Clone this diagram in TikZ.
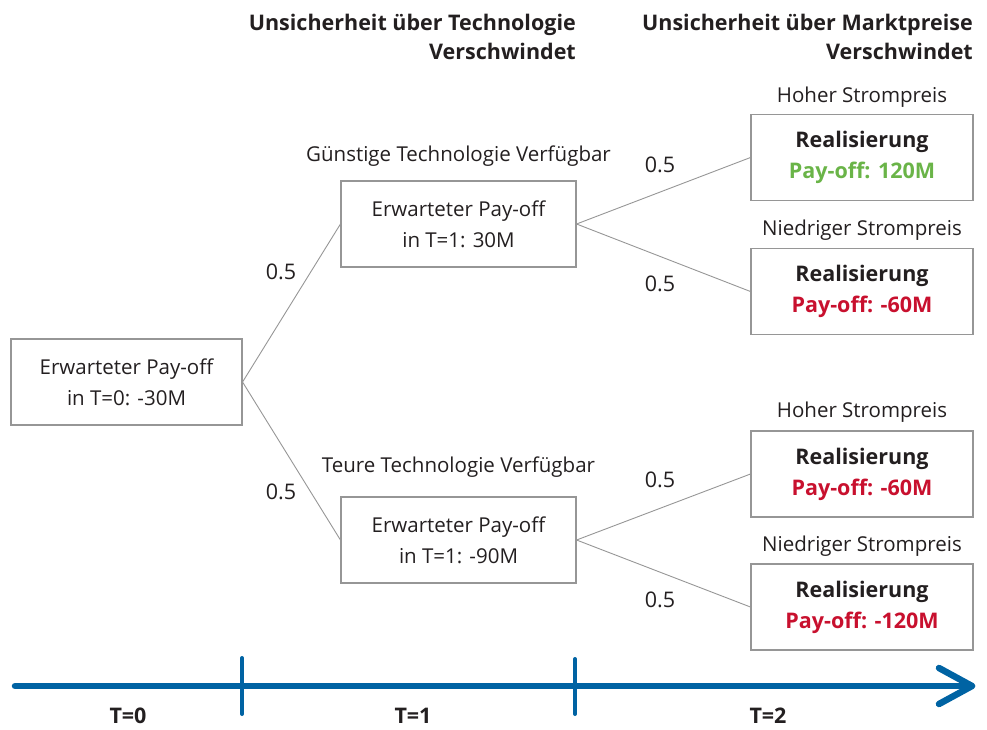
\documentclass[tikz,border=0pt]{standalone}
\usepackage{fontspec}
\setmainfont{Open Sans}
\definecolor{boxgray}{RGB}{150,150,150}
\definecolor{axisblue}{RGB}{0,99,163}
\definecolor{paygreen}{RGB}{106,180,72}
\definecolor{payred}{RGB}{200,16,46}
\definecolor{txt}{RGB}{35,31,32}
\begin{document}
\begin{tikzpicture}[x=1pt,y=-1pt,
  every node/.style={text=txt},
  base/.style={font=\fontsize{20.5}{31}\selectfont},
  box/.style={draw=boxgray, line width=1.1pt, align=center, inner sep=0pt, base},
  midbox/.style={box, minimum width=235pt, minimum height=86pt},
  leftbox/.style={box, minimum width=231pt, minimum height=86pt},
  rbox/.style={box, minimum width=222pt, minimum height=86pt, font=\fontsize{21.5}{31}\selectfont\bfseries},
  lbl/.style={base, inner sep=0pt},
  prob/.style={font=\fontsize{21.5}{26}\selectfont, inner sep=0pt},
  hdr/.style={font=\fontsize{21.5}{29}\selectfont\bfseries, align=right, anchor=east, inner sep=0pt},
  conn/.style={draw=boxgray, line width=0.9pt},
  axisline/.style={draw=axisblue, line width=6.5pt, line cap=round, line join=round},
  tickline/.style={draw=axisblue, line width=4pt, line cap=round},
  tlbl/.style={font=\fontsize{21.5}{26}\selectfont\bfseries, inner sep=0pt}]
\useasboundingbox (0,0) rectangle (987,729);
% headers
\node[hdr] (h1) at (576,37) {Unsicherheit über Technologie\\Verschwindet};
\node[hdr] (h2) at (973,37) {Unsicherheit über Marktpreise\\Verschwindet};
% boxes
\node[leftbox] (n0) at (126.5,382) {Erwarteter Pay-off\\in T=0: -30M};
\node[midbox] (n1) at (458.5,224) {Erwarteter Pay-off\\in T=1: 30M};
\node[midbox] (n2) at (458.5,540) {Erwarteter Pay-off\\in T=1: -90M};
\node[rbox] (r1) at (862,157.5) {Realisierung\\\textcolor{paygreen}{Pay-off: 120M}};
\node[rbox] (r2) at (862,291.5) {Realisierung\\\textcolor{payred}{Pay-off: -60M}};
\node[rbox] (r3) at (862,474) {Realisierung\\\textcolor{payred}{Pay-off: -60M}};
\node[rbox] (r4) at (862,607) {Realisierung\\\textcolor{payred}{Pay-off: -120M}};
% labels above boxes
\node[lbl] (l1) at (458.5,156) {Günstige Technologie Verfügbar};
\node[lbl] (l2) at (458.5,467) {Teure Technologie Verfügbar};
\node[lbl] (l3) at (862,97) {Hoher Strompreis};
\node[lbl] (l4) at (862,230) {Niedriger Strompreis};
\node[lbl] (l5) at (862,412) {Hoher Strompreis};
\node[lbl] (l6) at (862,546) {Niedriger Strompreis};
% connectors
\draw[conn] (n0.east) -- (n1.west);
\draw[conn] (n0.east) -- (n2.west);
\draw[conn] (n1.east) -- (r1.west);
\draw[conn] (n1.east) -- (r2.west);
\draw[conn] (n2.east) -- (r3.west);
\draw[conn] (n2.east) -- (r4.west);
% probabilities
\node[prob] (p1) at (281,272) {0.5};
\node[prob] (p2) at (281,492) {0.5};
\node[prob] (p3) at (660,165) {0.5};
\node[prob] (p4) at (660,284) {0.5};
\node[prob] (p5) at (660,480) {0.5};
\node[prob] (p6) at (660,600) {0.5};
% time axis
\coordinate (as) at (15,686);
\coordinate (ae) at (972,686);
\coordinate (ta1) at (242,658);
\coordinate (tb1) at (242,714);
\coordinate (ta2) at (575,659);
\coordinate (tb2) at (575,714);
\draw[axisline] (as) -- (ae);
\draw[axisline] ([shift={(-33,-18)}]ae) -- (ae) -- ([shift={(-33,18)}]ae);
\draw[tickline] (ta1) -- (tb1);
\draw[tickline] (ta2) -- (tb2);
\node[tlbl] (t0) at (128,716) {T=0};
\node[tlbl] (t1) at (413,716) {T=1};
\node[tlbl] (t2) at (768,716) {T=2};
\end{tikzpicture}
\end{document}
